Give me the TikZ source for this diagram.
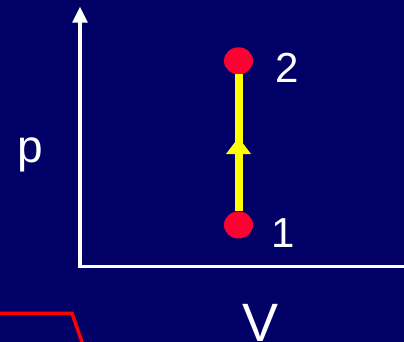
\documentclass[tikz,border=0pt]{standalone}
\usepackage{fontspec}
\setmainfont{Liberation Sans}
\usetikzlibrary{positioning, shapes.geometric, arrows.meta, decorations.markings}
\definecolor{pvnavy}{HTML}{000066}
\definecolor{pvred}{HTML}{FF0033}
\definecolor{pvyellow}{HTML}{FFFF00}
\definecolor{pvwhite}{HTML}{FFFFFF}
\definecolor{pvline}{HTML}{FF0000}

\begin{document}
\begin{tikzpicture}[x=1pt, y=1pt,
    zustand/.style={ellipse, fill=pvred, minimum width=29pt, minimum height=27pt, inner sep=0pt},
    ziffer/.style={text=pvwhite, inner sep=0pt, font=\fontsize{42}{42}\selectfont}]
    \fill[pvnavy] (0,0) rectangle (404,342);
    \useasboundingbox (0,0) rectangle (404,342);
    \clip (0,0) rectangle (404,342);
    % achsen
    \coordinate (o) at (80,75.3);
    \coordinate (ptop) at (80,335.3);
    \coordinate (vend) at (410,75.3);
    \draw[pvwhite, line width=3.3pt, -{Triangle[width=14.7pt,length=16pt]}] (vend) -- (o) -- (ptop);
    \node[text=pvwhite, inner sep=0pt, font=\fontsize{46}{46}\selectfont] (plabel) at (30,187) {p};
    \node[text=pvwhite, inner sep=0pt, font=\fontsize{54}{54}\selectfont] (vlabel) at (260.3,19.3) {V};
    % zustaende
    \node[zustand] (z1) at (238.5,117) {};
    \node[zustand] (z2) at (238.5,281.2) {};
    \node[ziffer, right=21.7pt of z2, yshift=-7pt] (n2) {2};
    \node[ziffer, right=18.4pt of z1, yshift=-8pt] (n1) {1};
    % prozess 1-2
    \draw[pvyellow, line width=8pt, postaction={decorate},
      decoration={markings, mark=at position 0.54 with {\arrow{Triangle[width=24pt,length=16.7pt]}}}]
      (z1) -- (z2);
    % rote linie unten
    \draw[pvline, line width=3.5pt] (-5,28.7) -- (72,28.7) -- (83,-3);
\end{tikzpicture}
\end{document}
